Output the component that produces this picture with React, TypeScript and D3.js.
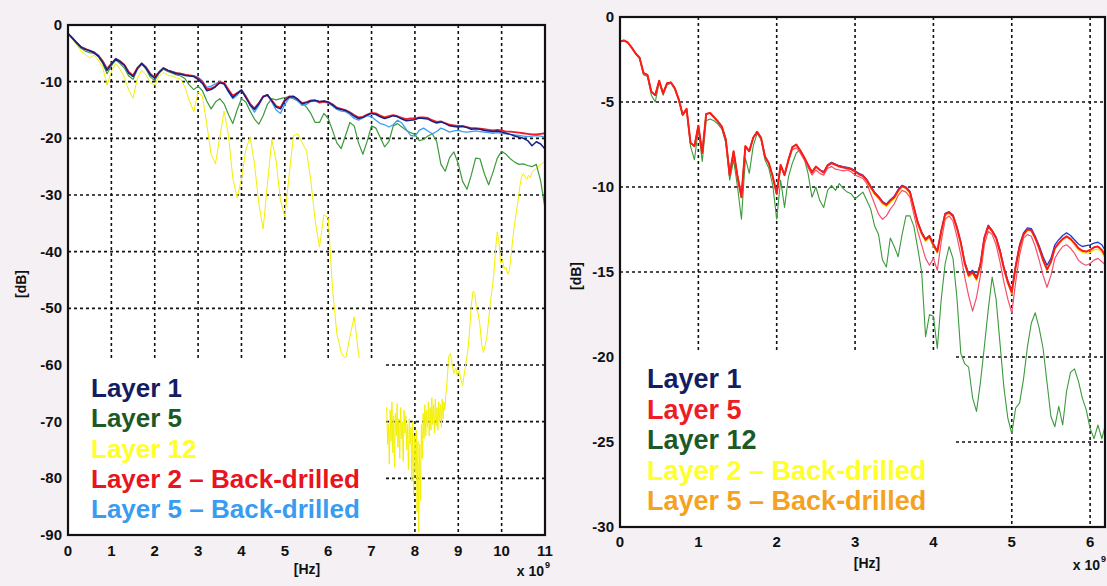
import React from 'react';
import * as d3 from 'd3';

// sampling grids (frequency in GHz, axis shows x 10^9 Hz)
const leftFreq = d3.range(0, 111).map(i => i / 10);
const rightFreq = d3.range(0, 125).map(i => i * 0.05);
const yellowFreqA = d3.range(0, 74).map(i => i / 10);
const yellowFreqB = d3.range(0, 69).map(i => 7.35 + i * 0.02);
const yellowFreqC = d3.range(0, 57).map(i => 8.74 + i * 0.04);

const leftXTicks = [0, 1, 2, 3, 4, 5, 6, 7, 8, 9, 10, 11];
const leftYTicks = [0, -10, -20, -30, -40, -50, -60, -70, -80, -90];
const rightXTicks = [0, 1, 2, 3, 4, 5, 6];
const rightYTicks = [0, -5, -10, -15, -20, -25, -30];

// ---- left chart values [dB] ----
const leftLayer1 = [
  -1.5, -2.3, -3.1, -3.9, -4.3, -4.5, -4.9, -5.5, -6.6, -8.0,
  -6.9, -6.0, -6.5, -7.1, -8.5, -9.1, -7.7, -6.8, -7.6, -8.8,
  -9.4, -8.4, -7.6, -8.0, -8.3, -8.6, -8.7, -8.9, -9.0, -9.1,
  -9.6, -10.3, -11.6, -11.4, -10.9, -10.2, -10.4, -11.7, -12.8, -12.1,
  -11.5, -12.8, -14.1, -14.9, -13.9, -12.7, -12.3, -13.4, -14.5, -14.8,
  -13.4, -12.7, -12.6, -13.1, -13.9, -13.7, -13.4, -13.3, -13.5, -13.4,
  -13.6, -14.1, -14.7, -14.9, -15.1, -15.5, -16.1, -16.5, -16.3, -15.9,
  -15.6, -15.8, -16.2, -16.5, -16.3, -16.0, -16.2, -16.6, -16.9, -16.8,
  -16.7, -16.4, -16.5, -16.6, -17.0, -17.3, -17.1, -17.4, -17.8, -17.9,
  -18.0, -17.9, -18.1, -18.4, -18.3, -18.4, -18.6, -18.7, -18.8, -18.7,
  -18.9, -19.1, -19.3, -19.6, -19.8, -20.0, -20.4, -21.3, -20.6, -21.0,
  -21.9
];
const leftLayer5 = [
  -1.5, -2.4, -3.3, -4.1, -4.6, -4.9, -5.0, -5.6, -6.8, -8.6,
  -7.2, -6.2, -6.8, -7.6, -9.0, -9.6, -7.8, -6.9, -7.8, -9.2,
  -9.8, -8.5, -7.8, -8.2, -8.5, -8.8, -9.0, -9.5, -10.6, -11.4,
  -10.8, -11.6, -13.4, -14.8, -13.6, -13.0, -13.9, -15.8, -17.4, -15.0,
  -13.0, -13.6, -15.2, -16.6, -17.5, -16.0, -14.0, -13.0, -13.2, -13.0,
  -12.8, -12.7, -13.0, -13.4, -13.8, -14.5, -15.6, -17.2, -17.2, -15.6,
  -16.5, -18.6, -20.8, -21.8, -19.5, -17.2, -17.8, -20.8, -22.8, -20.5,
  -17.8, -18.2, -19.8, -21.5, -20.6, -17.8, -17.4, -18.0, -18.6, -19.0,
  -19.3, -20.4, -20.2, -19.6, -19.2, -20.5, -24.6, -25.8, -23.4, -22.4,
  -24.5, -27.6, -29.0, -26.5, -23.5, -23.6, -26.2, -28.2, -26.0, -23.5,
  -22.3, -22.8, -23.6, -24.2, -24.6, -24.5, -24.8, -25.0, -24.6, -27.5,
  -32.3
];
const leftLayer12A = [
  -1.5, -2.5, -3.5, -4.6, -5.2, -5.8, -5.3, -6.2, -7.5, -10.6,
  -8.2, -6.8, -7.8, -9.2, -11.5, -12.9, -9.4, -8.0, -8.8, -10.2,
  -10.6, -9.0, -8.4, -8.9, -9.0, -9.3, -9.6, -11.0, -13.4, -15.3,
  -11.8, -12.6, -17.5, -22.8, -24.5, -19.8, -15.2, -19.5, -27.0, -30.5,
  -27.2, -22.0, -19.8, -24.5, -31.5, -36.0, -28.0, -20.2, -24.0, -31.0,
  -33.8, -26.5, -19.5, -19.2, -20.8, -22.2, -27.5, -34.5, -39.2, -33.5,
  -34.0, -46.5, -54.5, -57.8, -59.0, -55.0, -51.5, -58.0, -63.0, -65.0,
  -66.0, -67.0, -68.0, -69.0
];
const leftLayer12B = [
  -67.5, -74.0, -70.5, -77.5, -68.0, -73.5, -66.5, -75.5, -69.0, -78.0,
  -68.5, -72.5, -66.8, -74.5, -69.5, -76.5, -67.5, -73.0, -70.0, -77.0,
  -68.0, -72.0, -69.0, -75.0, -70.5, -78.5, -69.5, -74.0, -71.0, -80.5,
  -70.0, -83.0, -72.5, -79.0, -71.5, -86.0, -73.5, -89.5, -74.0, -84.0,
  -70.5, -76.5, -68.5, -73.0, -67.0, -72.5, -68.0, -71.0, -66.5, -72.5,
  -67.5, -71.5, -65.8, -70.5, -67.0, -72.0, -66.0, -70.8, -67.5, -71.5,
  -66.5, -70.0, -67.0, -71.0, -66.0, -69.5, -66.5, -68.0, -65.5
];
const leftLayer12C = [
  -63.0, -58.5, -58.0, -60.0, -61.5, -60.5, -62.0, -61.0, -62.5, -63.6,
  -61.5, -59.5, -57.5, -54.0, -49.5, -47.0, -47.3, -50.0, -51.0, -53.0,
  -56.5, -57.8, -56.5, -55.0, -52.0, -49.0, -46.5, -44.0, -39.5, -36.5,
  -38.5, -42.0, -41.5, -43.0, -42.8, -44.0, -43.2, -40.5, -37.5, -35.0,
  -33.0, -31.0, -28.5, -26.8, -26.2, -26.8, -27.2, -26.5, -27.0, -26.0,
  -25.6, -25.4, -25.2, -24.8, -24.6, -24.4, -24.2
];
const leftLayer2BD = [
  -1.5, -2.3, -3.2, -3.9, -4.2, -4.6, -4.8, -5.4, -6.4, -7.8,
  -6.8, -6.0, -6.4, -7.0, -8.3, -8.9, -7.6, -6.8, -7.5, -8.7,
  -9.2, -8.3, -7.6, -8.0, -8.3, -8.5, -8.6, -8.8, -8.9, -9.0,
  -9.4, -10.0, -11.3, -11.2, -10.8, -10.1, -10.2, -11.4, -12.5, -12.0,
  -11.5, -12.6, -13.9, -14.7, -13.8, -12.6, -12.4, -13.3, -14.3, -14.6,
  -13.2, -12.6, -12.6, -13.2, -13.8, -13.6, -13.3, -13.3, -13.6, -13.5,
  -13.6, -14.0, -14.6, -14.8, -15.0, -15.4, -15.9, -16.3, -16.2, -15.8,
  -15.5, -15.6, -16.0, -16.3, -16.1, -15.9, -16.1, -16.4, -16.6, -16.5,
  -16.5, -16.3, -16.3, -16.4, -16.8, -17.1, -17.0, -17.3, -17.6, -17.7,
  -17.8, -17.8, -18.0, -18.2, -18.2, -18.3, -18.4, -18.5, -18.6, -18.5,
  -18.6, -18.8, -18.8, -18.9, -19.0, -19.1, -19.2, -19.3, -19.3, -19.2,
  -19.1
];
const leftLayer5BD = [
  -1.5, -2.2, -3.1, -3.8, -4.2, -4.5, -4.8, -5.3, -6.3, -7.6,
  -6.9, -5.9, -6.3, -7.1, -8.4, -9.0, -7.5, -6.7, -7.4, -8.5,
  -9.4, -8.4, -7.7, -8.0, -8.2, -8.4, -8.6, -8.7, -8.9, -9.0,
  -9.2, -9.9, -11.0, -10.8, -10.4, -10.0, -10.4, -11.8, -13.0, -12.4,
  -11.4, -12.5, -14.2, -15.4, -14.2, -12.6, -12.3, -13.6, -15.0, -15.6,
  -14.0, -12.9, -12.8, -13.4, -14.2, -14.0, -13.5, -13.4, -13.8, -13.6,
  -13.8, -14.3, -14.9, -15.2, -15.3, -15.8, -16.5, -16.8, -16.4, -16.0,
  -16.2, -16.8, -17.4, -17.6, -18.0, -17.6, -16.8, -17.3, -18.4, -19.5,
  -19.6, -18.6, -18.2, -18.7, -19.2, -18.8, -18.2, -18.5, -18.9, -18.7,
  -18.6, -18.8, -18.9, -18.8, -18.7, -18.8, -18.9, -19.0, -19.1, -19.0,
  -19.1, -19.2, -19.3, -19.4, -19.5, -19.6, -19.7, -19.6, -19.5, -19.6,
  -19.8
];

// ---- right chart values [dB] ----
const rightLayer1 = [
  -1.45, -1.38, -1.5, -1.8, -2.15, -2.4, -3.3, -3.4, -4.4, -4.6,
  -3.75, -4.5, -3.9, -3.85, -4.2, -4.85, -5.75, -5.4, -7.4, -7.6,
  -6.4, -8.0, -5.7, -5.65, -5.9, -6.15, -6.45, -7.2, -9.3, -7.9,
  -9.4, -10.6, -7.6, -7.9, -7.1, -6.75, -7.1, -8.2, -8.6, -9.4,
  -10.4, -8.7, -9.3, -8.4, -7.65, -7.5, -7.85, -8.25, -8.7, -9.1,
  -8.8, -9.0, -9.1, -8.7, -8.55, -8.65, -8.75, -8.8, -8.85, -8.9,
  -9.05, -9.2, -9.3, -9.55, -9.95, -10.3, -10.55, -10.85, -11.0, -10.75,
  -10.55, -10.15, -9.9, -10.0, -10.25, -11.15, -12.05, -12.65, -13.05, -12.85,
  -13.35, -13.75, -12.55, -11.55, -11.45, -11.65, -12.35, -13.25, -14.4, -15.1,
  -14.9, -15.3, -14.5, -12.95, -12.25, -12.55, -12.95, -13.7, -14.7, -15.5,
  -16.1, -14.6, -13.4, -12.7, -12.4, -12.45, -12.9, -13.45, -14.1, -14.6,
  -14.2, -13.4, -13.1, -12.85, -12.7, -12.85, -13.1, -13.35, -13.5, -13.45,
  -13.4, -13.3, -13.25, -13.4, -13.8
];
const rightLayer5 = [
  -1.45, -1.38, -1.5, -1.8, -2.15, -2.4, -3.3, -3.4, -4.4, -4.6,
  -3.75, -4.5, -3.9, -3.85, -4.2, -4.85, -5.75, -5.4, -7.4, -7.6,
  -6.4, -8.0, -5.7, -5.65, -5.9, -6.15, -6.45, -7.2, -9.3, -7.9,
  -9.4, -10.6, -7.6, -7.9, -7.1, -6.75, -7.1, -8.2, -8.6, -9.4,
  -10.4, -8.7, -9.3, -8.4, -7.65, -7.5, -7.85, -8.25, -8.7, -9.15,
  -8.8, -9.0, -9.15, -8.75, -8.6, -8.7, -8.8, -8.85, -8.9, -8.95,
  -9.1, -9.25, -9.35, -9.6, -10.0, -10.35, -10.6, -10.9, -11.05, -10.8,
  -10.6, -10.2, -9.95, -10.05, -10.3, -11.2, -12.1, -12.7, -13.1, -12.9,
  -13.4, -13.8, -12.6, -11.6, -11.5, -11.7, -12.4, -13.3, -14.5, -15.2,
  -15.0, -15.4, -14.6, -13.0, -12.3, -12.6, -13.0, -13.8, -14.8, -15.6,
  -16.2, -14.7, -13.5, -12.8, -12.5, -12.55, -13.0, -13.6, -14.3, -14.85,
  -14.4, -13.6, -13.3, -13.05, -12.9, -13.05, -13.3, -13.6, -13.75, -13.8,
  -13.7, -13.55, -13.5, -13.7, -14.1
];
const rightLayer12 = [
  -1.45, -1.38, -1.5, -1.8, -2.15, -2.45, -3.4, -3.5, -4.6, -5.0,
  -3.85, -4.6, -4.0, -3.9, -4.25, -4.9, -5.8, -5.5, -7.6, -8.4,
  -6.6, -8.5, -6.1, -6.0, -6.1, -6.3, -6.6, -7.4, -9.6, -8.4,
  -10.0, -11.9, -8.3, -9.2, -7.6, -6.85, -7.2, -8.4, -8.9, -9.9,
  -11.9, -9.6, -11.2, -9.4, -8.6, -8.0, -7.8, -8.3, -9.2, -10.6,
  -10.0, -10.8, -11.2, -10.2, -9.9, -10.2, -9.8, -10.1, -10.3, -10.4,
  -10.7, -10.5, -10.3, -10.8, -11.3, -12.3, -12.8, -14.3, -14.7, -13.0,
  -13.5, -14.1, -12.8, -11.7, -11.7, -12.3, -13.6, -15.0, -18.8, -17.5,
  -17.6, -19.5, -16.6, -14.5, -13.5, -14.2, -16.5, -19.8, -20.4, -20.6,
  -22.4, -23.2, -21.5, -19.4, -17.2, -15.3, -16.6, -19.2, -21.8, -23.6,
  -24.5, -23.0, -22.7, -21.3, -19.4, -18.0, -17.4, -18.3, -19.5, -21.5,
  -23.5, -24.1, -22.9, -24.0, -22.0, -20.9, -20.7, -21.4, -22.4, -23.1,
  -24.2, -24.8, -24.0, -24.8, -23.9
];
const rightLayer2BD = [
  -1.45, -1.38, -1.5, -1.8, -2.15, -2.4, -3.3, -3.4, -4.4, -4.6,
  -3.75, -4.5, -3.9, -3.85, -4.2, -4.85, -5.75, -5.4, -7.4, -7.6,
  -6.4, -8.0, -5.7, -5.65, -5.9, -6.15, -6.45, -7.2, -9.3, -7.9,
  -9.4, -10.6, -7.6, -7.9, -7.1, -6.75, -7.1, -8.2, -8.6, -9.4,
  -10.4, -8.7, -9.3, -8.4, -7.65, -7.5, -7.85, -8.25, -8.7, -9.15,
  -8.8, -9.0, -9.15, -8.75, -8.6, -8.7, -8.8, -8.85, -8.9, -8.95,
  -9.1, -9.25, -9.4, -9.65, -10.1, -10.45, -10.7, -11.0, -11.15, -10.9,
  -10.7, -10.3, -10.0, -10.1, -10.4, -11.3, -12.2, -12.8, -13.2, -13.0,
  -13.5, -13.9, -12.7, -11.7, -11.55, -11.75, -12.45, -13.35, -14.55, -15.3,
  -15.1, -15.5, -14.7, -13.05, -12.35, -12.65, -13.05, -13.85, -14.85, -15.7,
  -16.3, -14.8, -13.6, -12.85, -12.55, -12.6, -13.05, -13.65, -14.35, -14.9,
  -14.45, -13.65, -13.35, -13.1, -12.95, -13.1, -13.4, -13.7, -13.85, -13.9,
  -13.85, -13.7, -13.65, -13.85, -14.25
];
const rightLayer5BD = [
  -1.45, -1.38, -1.5, -1.8, -2.15, -2.4, -3.3, -3.4, -4.4, -4.6,
  -3.75, -4.5, -3.9, -3.85, -4.2, -4.85, -5.75, -5.4, -7.4, -7.6,
  -6.4, -8.0, -5.7, -5.65, -5.9, -6.15, -6.45, -7.2, -9.1, -7.9,
  -9.3, -10.4, -7.6, -7.9, -7.1, -6.75, -7.1, -8.2, -8.6, -9.4,
  -10.4, -8.8, -9.3, -8.5, -7.8, -7.7, -8.0, -8.4, -8.85, -9.3,
  -9.0, -9.2, -9.3, -8.9, -8.8, -8.95, -9.0, -9.05, -9.0, -9.1,
  -9.3, -9.4, -9.5, -9.8, -10.4, -11.0, -11.6, -11.9, -11.7, -11.3,
  -11.0, -10.5, -10.2, -10.3, -10.6, -11.6, -12.6, -13.4, -14.2, -14.6,
  -14.2, -14.9, -13.2, -11.9, -11.7, -12.0, -12.9, -14.0, -15.3, -16.4,
  -17.3, -16.5, -15.2, -13.4, -12.6, -12.8, -13.4, -14.4, -15.6, -16.6,
  -17.4, -15.6, -14.0, -13.0, -12.8, -12.9, -13.5, -14.3, -15.2, -15.9,
  -15.2, -14.2, -13.8, -13.5, -13.4, -13.6, -13.9, -14.3, -14.5, -14.6,
  -14.5, -14.3, -14.2, -14.4, -14.6
];

const leftSeries = [
  { freq: [...yellowFreqA, ...yellowFreqB, ...yellowFreqC], values: [...leftLayer12A, ...leftLayer12B, ...leftLayer12C], color: '#f4f000', width: 1.0 },
  { freq: leftFreq, values: leftLayer5, color: '#3c9a3c', width: 1.2 },
  { freq: leftFreq, values: leftLayer5BD, color: '#3d9df2', width: 1.3 },
  { freq: leftFreq, values: leftLayer2BD, color: '#ee1c25', width: 1.8 },
  { freq: leftFreq, values: leftLayer1, color: '#14208a', width: 1.5 },
];
const rightSeries = [
  { freq: rightFreq, values: rightLayer12, color: '#3c9a3c', width: 1.1 },
  { freq: rightFreq, values: rightLayer5BD, color: '#f4506e', width: 1.2 },
  { freq: rightFreq, values: rightLayer1, color: '#1a3ac8', width: 1.3 },
  { freq: rightFreq, values: rightLayer2BD, color: '#f0e000', width: 1.3 },
  { freq: rightFreq, values: rightLayer5, color: '#ff1a1a', width: 2.0 },
];

const leftLegend = [
  { label: 'Layer 1', color: '#141c62' },
  { label: 'Layer 5', color: '#1d5a23' },
  { label: 'Layer 12', color: '#ffff2a' },
  { label: 'Layer 2 \u2013 Back-drilled', color: '#e8141e' },
  { label: 'Layer 5 \u2013 Back-drilled', color: '#3a9cf0' },
];
const rightLegend = [
  { label: 'Layer 1', color: '#141c62' },
  { label: 'Layer 5', color: '#ee1c25' },
  { label: 'Layer 12', color: '#1d5a23' },
  { label: 'Layer 2 \u2013 Back-drilled', color: '#ffff2a' },
  { label: 'Layer 5 \u2013 Back-drilled', color: '#f5a21e' },
];

const FONT = '"Liberation Sans", Arial, sans-serif';

function Panel(props: any) {
  const { id, box, xMax, yMin, xTicks, yTicks, series, legend, legendBox, legendX, legendY0, legendStep, legendSize, labels } = props;
  const x = d3.scaleLinear().domain([0, xMax]).range([box.left, box.right]);
  const y = d3.scaleLinear().domain([yMin, 0]).range([box.bottom, box.top]);
  const line = d3.line<[number, number]>().x(d => x(d[0])).y(d => y(d[1]));

  const gridX = xTicks.filter((t: number) => x(t) > box.left + 2 && x(t) < box.right - 2);
  const gridY = yTicks.filter((t: number) => t !== 0 && t !== yMin);

  return (
    <g>
      <defs>
        <clipPath id={id}>
          <rect x={box.left} y={box.top} width={box.right - box.left} height={box.bottom - box.top} />
        </clipPath>
      </defs>
      <rect x={box.left} y={box.top} width={box.right - box.left} height={box.bottom - box.top} fill="#fff" />
      {gridX.map((t: number) => (
        <line key={'gx' + t} x1={x(t)} x2={x(t)} y1={box.top} y2={box.bottom}
          stroke="#111" strokeWidth={1.6} strokeDasharray="3,3" />
      ))}
      {gridY.map((t: number) => (
        <line key={'gy' + t} x1={box.left} x2={box.right} y1={y(t)} y2={y(t)}
          stroke="#111" strokeWidth={1.6} strokeDasharray="3,3" />
      ))}
      <g clipPath={`url(#${id})`}>
        {series.map((s: any, i: number) => (
          <path key={i} d={line(s.freq.map((f: number, j: number) => [f, s.values[j]]) as [number, number][]) || ''}
            fill="none" stroke={s.color} strokeWidth={s.width} strokeLinejoin="round" />
        ))}
      </g>
      <rect x={legendBox.x} y={legendBox.y} width={legendBox.w} height={legendBox.h} fill="#fff" />
      {legend.map((l: any, i: number) => (
        <text key={l.label} x={legendX} y={legendY0 + i * legendStep} fill={l.color}
          fontFamily={FONT} fontWeight="bold" fontSize={legendSize}>{l.label}</text>
      ))}
      <rect x={box.left} y={box.top} width={box.right - box.left} height={box.bottom - box.top}
        fill="none" stroke="#111" strokeWidth={2.2} />
      {yTicks.map((t: number) => (
        <text key={'yt' + t} x={box.left - 6} y={y(t) + 5} textAnchor="end"
          fontFamily={FONT} fontWeight="bold" fontSize={15} fill="#111">{t}</text>
      ))}
      {xTicks.map((t: number) => (
        <text key={'xt' + t} x={x(t)} y={box.bottom + labels.xTickDy} textAnchor="middle"
          fontFamily={FONT} fontWeight="bold" fontSize={15} fill="#111">{t}</text>
      ))}
      <text transform={`translate(${labels.dbX},${labels.dbY}) rotate(-90)`} textAnchor="middle"
        fontFamily={FONT} fontWeight="bold" fontSize={14} fill="#111">[dB]</text>
      <text x={labels.hzX} y={labels.hzY} textAnchor="middle"
        fontFamily={FONT} fontWeight="bold" fontSize={14} fill="#111">[Hz]</text>
      <text x={labels.expX} y={labels.expY} textAnchor="end"
        fontFamily={FONT} fontWeight="bold" fontSize={14} fill="#111">x 10</text>
      <text x={labels.expX + 1} y={labels.expY - 8}
        fontFamily={FONT} fontWeight="bold" fontSize={9} fill="#111">9</text>
    </g>
  );
}

export default function App() {
  return (
    <svg width={1107} height={586} style={{ position: 'absolute', left: 0, top: 0 }}>
      <rect x={0} y={0} width={1107} height={586} fill="#f4f0f4" />
      <Panel
        id="clipL"
        box={{ left: 68, right: 545, top: 25, bottom: 535 }}
        xMax={11} yMin={-90}
        xTicks={leftXTicks} yTicks={leftYTicks}
        series={leftSeries}
        legend={leftLegend}
        legendBox={{ x: 69, y: 358, w: 317, h: 176 }}
        legendX={91} legendY0={397} legendStep={30.3} legendSize={26}
        labels={{ xTickDy: 21, dbX: 26, dbY: 284, hzX: 307, hzY: 574, expX: 544, expY: 576 }}
      />
      <Panel
        id="clipR"
        box={{ left: 620, right: 1105, top: 17, bottom: 527 }}
        xMax={6.19} yMin={-30}
        xTicks={rightXTicks} yTicks={rightYTicks}
        series={rightSeries}
        legend={rightLegend}
        legendBox={{ x: 621, y: 352, w: 332, h: 174 }}
        legendX={647} legendY0={388} legendStep={30.5} legendSize={27}
        labels={{ xTickDy: 20, dbX: 581, dbY: 276, hzX: 867, hzY: 568, expX: 1100, expY: 570 }}
      />
    </svg>
  );
}
